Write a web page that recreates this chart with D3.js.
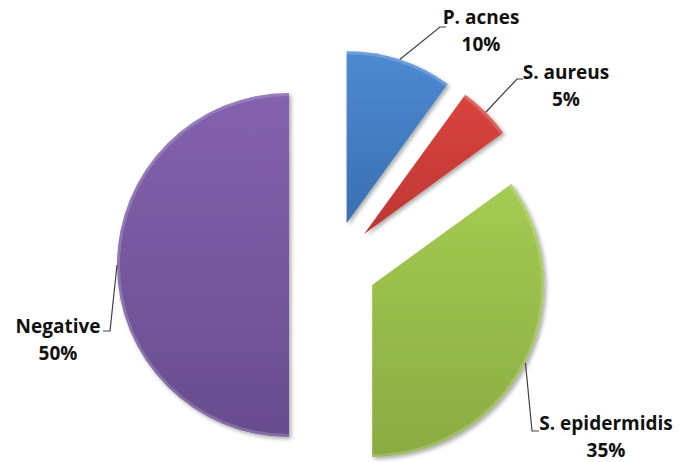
<!DOCTYPE html>
<html>
<head>
<meta charset="utf-8">
<script src="https://cdn.jsdelivr.net/npm/d3@7"></script>
<style>
  html, body { margin: 0; padding: 0; background: #fff; }
  svg { display: block; }
  .lbl { font-family: "Open Sans", Lato, sans-serif; font-weight: 700; font-size: 19px; fill: #111; }
</style>
</head>
<body>
<svg id="chart" width="689" height="462"></svg>
<script>
// Share of each result group (percent)
const categories = ["P. acnes", "S. aureus", "S. epidermidis", "Negative"];
const values = [10, 5, 35, 50];
const valueLabels = ["10%", "5%", "35%", "50%"];
const colorsTop = ["#4d8ad2", "#da443e", "#a4cb52", "#8462ad"];
const colorsBottom = ["#3a6fb2", "#bd3633", "#8aab42", "#674d8e"];

const W = 689, H = 462;
const cx = 333, cy = 265, R = 172, explode = 44;

// Label placement: text centre, leader knee and horizontal end
const labelLayout = {
  "P. acnes":       { x: 481, y: 17,  knee: [440, 27],  end: [446, 27] },
  "S. aureus":      { x: 566, y: 72,  knee: [517, 79],  end: [523, 79] },
  "S. epidermidis": { x: 606, y: 423, knee: [532, 431], end: [539, 431] },
  "Negative":       { x: 58,  y: 326, knee: [110, 331], end: [103, 331] }
};

const svg = d3.select("#chart");
const defs = svg.append("defs");

categories.forEach((c, i) => {
  const g = defs.append("linearGradient")
    .attr("id", "grad" + i).attr("x1", 0).attr("y1", 0).attr("x2", 0).attr("y2", 1);
  g.append("stop").attr("offset", "0%").attr("stop-color", colorsTop[i]);
  g.append("stop").attr("offset", "100%").attr("stop-color", colorsBottom[i]);
});

const shadow = defs.append("filter").attr("id", "shadow")
  .attr("x", "-10%").attr("y", "-10%").attr("width", "125%").attr("height", "125%");
shadow.append("feGaussianBlur").attr("in", "SourceAlpha").attr("stdDeviation", 2).attr("result", "b");
shadow.append("feOffset").attr("in", "b").attr("dx", 1.5).attr("dy", 1.5).attr("result", "o");
shadow.append("feComponentTransfer").attr("in", "o").attr("result", "s")
  .append("feFuncA").attr("type", "linear").attr("slope", 0.35);
const merge = shadow.append("feMerge");
merge.append("feMergeNode").attr("in", "s");
merge.append("feMergeNode").attr("in", "SourceGraphic");

const data = categories.map((c, i) => ({ name: c, value: values[i], label: valueLabels[i], i }));

const pie = d3.pie().value(d => d.value).sort(null);
const arcs = pie(data);
const arc = d3.arc().innerRadius(0).outerRadius(R);

function offset(a) {
  const m = (a.startAngle + a.endAngle) / 2;
  return [Math.sin(m) * explode, -Math.cos(m) * explode];
}

const slices = svg.append("g").attr("transform", `translate(${cx},${cy})`);

const sliceG = slices.selectAll("g.slice").data(arcs).enter().append("g")
  .attr("class", "slice")
  .attr("transform", a => { const o = offset(a); return `translate(${o[0]},${o[1]})`; });

sliceG.append("path")
  .attr("d", arc)
  .attr("fill", a => `url(#grad${a.data.i})`)
  .attr("filter", "url(#shadow)");

// light bevel along the rim
sliceG.append("path")
  .attr("d", d3.arc().innerRadius(R - 3).outerRadius(R))
  .attr("fill", "#fff").attr("opacity", 0.18);

// Leader lines and labels
const lines = svg.append("g");
const texts = svg.append("g");
arcs.forEach(a => {
  const o = offset(a);
  const m = (a.startAngle + a.endAngle) / 2;
  const ax = cx + o[0] + Math.sin(m) * R;
  const ay = cy + o[1] - Math.cos(m) * R;
  const L = labelLayout[a.data.name];
  lines.append("polyline")
    .attr("points", [[ax, ay], L.knee, L.end].map(p => p.join(",")).join(" "))
    .attr("fill", "none").attr("stroke", "#404040").attr("stroke-width", 1.2);
  const t = texts.append("text").attr("class", "lbl").attr("text-anchor", "middle")
    .attr("x", L.x).attr("y", L.y);
  t.append("tspan").attr("x", L.x).attr("dy", "0.35em").text(a.data.name);
  t.append("tspan").attr("x", L.x).attr("dy", "1.45em").text(a.data.label);
});
</script>
</body>
</html>
